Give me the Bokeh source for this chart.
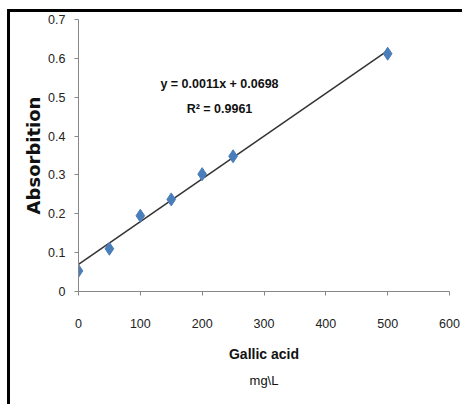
from bokeh.plotting import figure
from bokeh.models import Label, Title, Range1d, FixedTicker
from bokeh.embed import file_html
from bokeh.resources import INLINE

# Data
concentration = [0, 50, 100, 150, 200, 250, 500]
absorbance = [0.053, 0.11, 0.195, 0.237, 0.302, 0.348, 0.612]
slope = 0.0011
intercept = 0.0698
fit_x = [0, 500]
equation_text = "y = 0.0011x + 0.0698"
r2_text = "R² = 0.9961"
x_ticks = [0, 100, 200, 300, 400, 500, 600]
y_ticks = [0, 0.1, 0.2, 0.3, 0.4, 0.5, 0.6, 0.7]

FONT = "Liberation Sans"
AXIS_COLOR = "#878787"

p = figure(width=455, height=395, output_backend="svg", toolbar_location=None,
           x_range=Range1d(0, 600), y_range=Range1d(0, 0.7),
           min_border_left=68, min_border_right=16, min_border_top=7, min_border_bottom=116)
p.outline_line_color = None
p.xgrid.visible = False
p.ygrid.visible = False

fit_y = [slope * x + intercept for x in fit_x]
p.line(fit_x, fit_y, line_color="#333333", line_width=1.5)
p.scatter(concentration, absorbance, marker="diamond", size=13,
          fill_color="#4a7ebb", line_color="#4a7ebb")

for ax in (p.xaxis, p.yaxis):
    ax.axis_line_color = AXIS_COLOR
    ax.major_tick_line_color = AXIS_COLOR
    ax.minor_tick_line_color = None
    ax.major_tick_in = 0
    ax.major_tick_out = 4
    ax.major_label_text_font = FONT
    ax.major_label_text_font_size = "12.5px"
    ax.major_label_text_color = "#222222"

p.xaxis.ticker = FixedTicker(ticks=x_ticks)
p.yaxis.ticker = FixedTicker(ticks=y_ticks)
p.xaxis.major_label_standoff = 23
p.yaxis.major_label_standoff = 9

p.xaxis.axis_label = "Gallic acid"
p.xaxis.axis_label_text_font = FONT
p.xaxis.axis_label_text_font_style = "bold"
p.xaxis.axis_label_text_font_size = "14px"
p.xaxis.axis_label_text_color = "#111111"
p.xaxis.axis_label_standoff = 15

p.yaxis.axis_label = "Absorbition"
p.yaxis.axis_label_text_font = "DejaVu Sans"
p.yaxis.axis_label_text_font_style = "bold"
p.yaxis.axis_label_text_font_size = "18px"
p.yaxis.axis_label_text_color = "#111111"
p.yaxis.axis_label_standoff = 1

unit = Title(text="mg\\L", align="center", text_font=FONT, text_font_size="13px",
             text_font_style="normal", text_color="#111111", standoff=12)
p.add_layout(unit, "below")

p.add_layout(Label(x=228, y=0.535, text=equation_text, text_align="center",
                   text_baseline="middle", text_font=FONT, text_font_style="bold",
                   text_font_size="12.5px", text_color="#111111"))
p.add_layout(Label(x=228, y=0.47, text=r2_text, text_align="center",
                   text_baseline="middle", text_font=FONT, text_font_style="bold",
                   text_font_size="12.5px", text_color="#111111"))

p.styles = {"border-top": "3px solid black", "border-left": "3px solid black",
            "margin-left": "7px", "margin-top": "9px"}

open("out.html", "w").write(file_html(p, INLINE))
